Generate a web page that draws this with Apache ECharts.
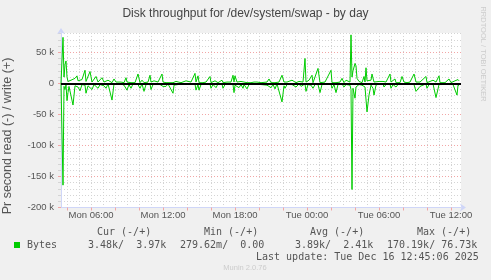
<!DOCTYPE html>
<html><head><meta charset="utf-8">
<script src="https://cdn.jsdelivr.net/npm/echarts@6/dist/echarts.min.js"></script>
<style>html,body{margin:0;padding:0;background:#f0f0f0}#c{width:491px;height:280px}</style>
</head><body><div id="c"></div>
<script>
// 5-minute sample index from Mon 03:30, write (+) and read (-) in kB/s
const steps = [0,1,2,3,4,5,6,7,8,10,12,14,16,17,19,21,24,25,27,29,31,33,35,37,39,41,43,45,47,49,51,53,55,57,60,63,65,66,68,70,72,74,77,79,81,83,85,87,89,90,92,93,95,97,99,101,102,104,105,107,109,112,113,115,117,120,125,127,130,132,134,135,137,138,140,142,145,147,149,150,152,154,155,157,161,162,164,166,168,170,172,173,174,176,178,180,182,183,185,186,188,190,193,196,198,
200,202,206,208,210,212,214,216,218,221,223,224,226,228,231,233,235,238,240,242,244,245,247,248,250,251,252,254,257,259,261,264,266,270,271,273,275,277,279,281,283,285,287,289,290,291,292,294,295,296,298,300,
301,303,304,305,306,308,310,311,312,313,315,318,320,322,323,325,329,330,332,334,335,337,339,341,343,346,349,353,355,357,359,361,365,366,368,372,375,378,379,381,384,386,388,390,392,394,396,397,398];
const writeK = [0,3,74,10,30,36,10,3,2,5,2,8,12,4,2,6,21,3,5,19,2,4,11,2,5,9,2,1,5,2,1,7,2,1,2,1,9,2,4,1,3,1,15,1,5,1,3,2,13,2,3,4,1,2,1,15,2,4,1,2,1,1,3,3,1,1,4,1,2,1,16,2,12,1,3,1,2,1,11,1,2,4,1,1,5,1,1,2,1,2,13,2,12,2,1,3,1,2,5,1,2,1,2,2,1,
1,3,2,7,1,2,1,3,2,13,2,1,2,1,5,8,1,3,1,2,40,2,3,5,2,13,1,2,24,1,3,2,1,21,1,2,1,3,2,8,1,5,2,2,78,10,20,32,28,8,3,2,
1,11,2,25,4,2,5,15,12,2,3,3,2,3,1,2,15,2,3,7,1,2,1,11,2,1,2,15,2,5,2,1,11,1,3,5,2,12,1,2,1,3,7,1,2,4,1,6,4];
const readK = [0,2,164,5,10,2,28,15,5,3,35,4,2,6,12,2,3,16,4,3,10,2,3,8,2,3,4,8,1,3,27,1,2,1,1,3,2,11,2,8,1,2,2,8,1,13,2,3,1,10,2,1,2,1,2,1,5,2,5,1,3,16,3,1,2,1,1,2,1,3,1,11,2,11,2,4,1,2,1,8,2,1,7,1,1,8,2,1,1,1,2,15,3,4,7,2,8,2,1,9,2,1,1,1,1,
2,1,3,1,7,2,9,1,4,30,4,8,2,5,2,1,6,1,5,2,1,13,2,1,3,1,8,2,2,15,2,1,3,1,8,2,15,2,1,1,6,2,1,3,10,171,8,24,6,3,2,1,
3,2,6,4,46,19,3,2,8,19,3,1,2,1,6,2,1,8,2,1,6,2,1,1,4,1,1,2,13,10,5,2,1,8,2,1,23,2,5,2,1,1,2,5,2,1,19,3,3.5];
const yMin = -200000, yMax = 81000;
const dayNames = ['Sun','Mon','Tue','Wed','Thu','Fri','Sat'];
const titleText = 'Disk throughput for /dev/system/swap - by day';
const yName = 'Pr second read (-) / write (+)';
const legendHead = ['Cur (-/+)','Min (-/+)','Avg (-/+)','Max (-/+)'];
const legendVals = ['3.48k/  3.97k','279.62m/  0.00','3.89k/  2.41k','170.19k/ 76.73k'];
const seriesName = 'Bytes';
const lastUpdate = 'Last update: Tue Dec 16 12:45:06 2025';
const footer = 'Munin 2.0.76';
const sideText = 'RRDTOOL / TOBI OETIKER';

const t0 = new Date(2025, 11, 15, 3, 30).getTime();
const STEP = 300000;
const tEnd = t0 + 400 * STEP;
const writeData = steps.map((s, i) => [t0 + s * STEP, writeK[i] * 1000]);
const readData = steps.map((s, i) => [t0 + s * STEP, -readK[i] * 1000]);

const MAJ = '#f2a6a6', MIN = '#d4d4d4', AXIS = '#cfd6f8', FONT = '#555';
const pad = n => (n < 10 ? '0' : '') + n;

const chart = echarts.init(document.getElementById('c'), null, {renderer: 'canvas'});
const gridBox = {left: 61, top: 33, width: 400, height: 174.5};
chart.setOption({
  backgroundColor: '#f0f0f0',
  animation: false,
  title: {text: titleText, left: 'center', top: 3,
    textStyle: {fontFamily: 'Liberation Sans', fontSize: 12, fontWeight: 'normal', color: '#444'}},
  grid: Object.assign({show: true, backgroundColor: '#ffffff', borderWidth: 0}, gridBox),
  xAxis: [{
    type: 'time', min: t0, max: tEnd,
    minInterval: 3 * 3600e3, maxInterval: 3 * 3600e3,
    axisLine: {show: true, onZero: false, symbol: ['none', 'arrow'], symbolSize: [6, 6], symbolOffset: [0, 5],
      lineStyle: {color: AXIS, width: 1}},
    axisTick: {show: true, length: 3, lineStyle: {color: MAJ}},
    splitLine: {show: true, showMinLine: false, showMaxLine: false, lineStyle: {color: MAJ, type: [1, 2], width: 1}},
    axisLabel: {show: true, margin: 3, hideOverlap: false, fontFamily: 'Liberation Sans', fontSize: 9.5, color: FONT,
      formatter: v => { const d = new Date(v); if (d.getMinutes() !== 0 || d.getHours() % 6 !== 0) return '';
        return dayNames[d.getDay()] + ' ' + pad(d.getHours()) + ':00'; }}
  }, {
    type: 'time', min: t0, max: tEnd, position: 'bottom',
    minInterval: 3600e3, maxInterval: 3600e3,
    axisLine: {show: false}, axisTick: {show: false}, axisLabel: {show: false},
    splitLine: {show: true, showMinLine: false, showMaxLine: false, lineStyle: {color: MIN, type: [1, 2], width: 1}}
  }],
  yAxis: {
    type: 'value', min: yMin, max: yMax, interval: 50000,
    axisLine: {show: true, symbol: ['none', 'arrow'], symbolSize: [6, 6], symbolOffset: [0, 5],
      lineStyle: {color: AXIS, width: 1}},
    axisTick: {show: true, length: 3, lineStyle: {color: MAJ}},
    minorTick: {show: true, splitNumber: 5, length: 3, lineStyle: {color: MIN}},
    splitLine: {show: true, showMinLine: false, showMaxLine: false, lineStyle: {color: MAJ, type: [1, 2], width: 1}},
    minorSplitLine: {show: true, lineStyle: {color: MIN, type: [1, 2], width: 1}},
    axisLabel: {margin: 7, fontFamily: 'Liberation Sans', fontSize: 9.5, color: FONT, showMaxLabel: false,
      formatter: v => (v % 50000 !== 0 ? '' : (v === 0 ? '0' : (v / 1000) + ' k'))}
  },
  series: [{
    name: seriesName + ' write', type: 'line', data: writeData, showSymbol: false, symbol: 'none',
    lineStyle: {color: '#00cc00', width: 1}, itemStyle: {color: '#00cc00'}, z: 3
  }, {
    name: seriesName + ' read', type: 'line', data: readData, showSymbol: false, symbol: 'none',
    lineStyle: {color: '#00cc00', width: 1}, itemStyle: {color: '#00cc00'}, z: 4,
    markLine: {silent: true, symbol: 'none', label: {show: false},
      lineStyle: {color: '#000', width: 2, type: 'solid'}, data: [{yAxis: 0}]}
  }],
  graphic: [
    {type: 'text', x: 8, y: 136, rotation: Math.PI / 2,
      style: {text: yName, font: '12.5px "Liberation Sans"', fill: FONT, textAlign: 'center', textVerticalAlign: 'middle'}},
    {type: 'text', x: 483, y: 54, rotation: -Math.PI / 2,
      style: {text: sideText, font: '7.5px "Liberation Sans"', fill: '#cccccc', textAlign: 'center', textVerticalAlign: 'middle'}},
    {type: 'text', x: 97, y: 232, style: {text: legendHead[0], font: '10px "DejaVu Sans Mono"', fill: FONT, textVerticalAlign: 'middle'}},
    {type: 'text', x: 204, y: 232, style: {text: legendHead[1], font: '10px "DejaVu Sans Mono"', fill: FONT, textVerticalAlign: 'middle'}},
    {type: 'text', x: 310, y: 232, style: {text: legendHead[2], font: '10px "DejaVu Sans Mono"', fill: FONT, textVerticalAlign: 'middle'}},
    {type: 'text', x: 417, y: 232, style: {text: legendHead[3], font: '10px "DejaVu Sans Mono"', fill: FONT, textVerticalAlign: 'middle'}},
    {type: 'rect', shape: {x: 14, y: 242, width: 6, height: 6}, style: {fill: '#00cc00'}},
    {type: 'text', x: 27, y: 245, style: {text: seriesName, font: '10px "DejaVu Sans Mono"', fill: FONT, textVerticalAlign: 'middle'}},
    {type: 'text', x: 88, y: 245, style: {text: legendVals[0], font: '10px "DejaVu Sans Mono"', fill: FONT, textVerticalAlign: 'middle'}},
    {type: 'text', x: 180, y: 245, style: {text: legendVals[1], font: '10px "DejaVu Sans Mono"', fill: FONT, textVerticalAlign: 'middle'}},
    {type: 'text', x: 295, y: 245, style: {text: legendVals[2], font: '10px "DejaVu Sans Mono"', fill: FONT, textVerticalAlign: 'middle'}},
    {type: 'text', x: 387, y: 245, style: {text: legendVals[3], font: '10px "DejaVu Sans Mono"', fill: FONT, textVerticalAlign: 'middle'}},
    {type: 'text', x: 256, y: 257, style: {text: lastUpdate, font: '10px "DejaVu Sans Mono"', fill: FONT, textVerticalAlign: 'middle'}},
    {type: 'text', x: 245, y: 268, style: {text: footer, font: '7.5px "Liberation Sans"', fill: '#cccccc', textAlign: 'center', textVerticalAlign: 'middle'}}
  ]
});
</script></body></html>
